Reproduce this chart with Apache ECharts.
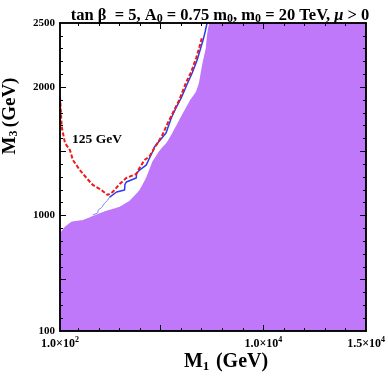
<!DOCTYPE html>
<html>
<head>
<meta charset="utf-8">
<script src="https://cdn.jsdelivr.net/npm/echarts@6/dist/echarts.min.js"></script>
<style>
  html, body { margin: 0; padding: 0; background: #fff; }
  #main { width: 388px; height: 382px; }
</style>
</head>
<body>
<div id="main"></div>
<script>
// excluded region boundary (area below is filled)
const edgeX = [100, 342, 666, 1213, 1696, 2359, 3003, 3486, 3970, 4309, 4599, 4940, 5276, 5567, 5905, 6437, 6713, 6873, 7018, 7197, 7260, 7405, 15000]
const edgeY = [864, 913, 952, 965, 996, 1037, 1069, 1115, 1199, 1300, 1420, 1505, 1565, 1643, 1744, 1900, 1962, 2040, 2173, 2305, 2406, 2500, 2500]

// 125 GeV higgs contour (red)
const higgsX = [100, 182, 342, 584, 729, 1068, 1392, 1696, 2117, 2422, 2664, 3003, 3327, 3811, 3970, 4212, 4454, 4696, 4938, 5083, 5325, 5567, 5905, 6244, 6486, 6728, 6873, 7018]
const higgsY = [1926, 1692, 1565, 1510, 1432, 1353, 1292, 1238, 1199, 1160, 1183, 1245, 1292, 1323, 1370, 1432, 1460, 1526, 1588, 1627, 1713, 1791, 1900, 2040, 2118, 2227, 2305, 2391]

// blue contour, faint start then solid
const blueThinX = [1696, 1938, 1960, 2117, 2277, 2300, 2422, 2519]
const blueThinY = [1004, 1020, 1043, 1060, 1097, 1110, 1120, 1144]
const blueX = [2519, 2857, 3245, 3260, 3327, 3811, 3830, 3970, 4294, 4599, 4696, 4938, 5262, 5518, 5746, 6002, 6292, 6534, 6776, 6921, 7066, 7163, 7260]
const blueY = [1144, 1183, 1199, 1240, 1261, 1292, 1330, 1353, 1393, 1495, 1534, 1580, 1643, 1760, 1838, 1916, 2025, 2110, 2212, 2290, 2367, 2430, 2500]

const xMinor = [1000, 2000, 3000, 4000, 6000, 7000, 8000, 9000, 11000, 12000, 13000, 14000]
const xMajor = [5000, 10000]
const xLabels = [100, 10000, 15000]
const yMinor = [200, 300, 400, 600, 700, 800, 900, 1100, 1200, 1300, 1400, 1600, 1700, 1800, 1900, 2100, 2200, 2300, 2400]
const yMajor = [500, 1000, 1500, 2000]
const yLabels = [100, 1000, 2000, 2500]

const serif = 'Liberation Serif'
const toPairs = (xs, ys) => xs.map((x, i) => [x, ys[i]])

const xFmt = v => {
  if (v === 100) return '{a|1.0×10}{s|2}'
  if (v === 10000) return '{a|1.0×10}{s|4}'
  return '{a|1.5×10}{s|4}'
}
const tickRich = {
  a: { fontFamily: serif, fontWeight: 'bold', fontSize: 12, color: '#000' },
  s: { fontFamily: serif, fontWeight: 'bold', fontSize: 8, color: '#000', padding: [0, 0, 7, 0] }
}

function xAx(pos, ticks, len, labels) {
  return {
    type: 'value', position: pos, min: 100, max: 15000, z: 10,
    axisLine: { show: true, onZero: false, lineStyle: { color: '#000', width: 1.5 } },
    axisTick: { show: true, inside: true, length: len, customValues: ticks, lineStyle: { color: '#000', width: 1 } },
    axisLabel: labels ? { show: true, customValues: labels, formatter: xFmt, rich: tickRich, margin: 5 } : { show: false },
    splitLine: { show: false }
  }
}
function yAx(pos, ticks, len, labels) {
  return {
    type: 'value', position: pos, min: 100, max: 2500, z: 10,
    axisLine: { show: true, onZero: false, lineStyle: { color: '#000', width: 1.5 } },
    axisTick: { show: true, inside: true, length: len, customValues: ticks, lineStyle: { color: '#000', width: 1 } },
    axisLabel: labels ? {
      show: true, customValues: labels, margin: 5, formatter: v => String(v),
      fontFamily: serif, fontWeight: 'bold', fontSize: 11, color: '#000'
    } : { show: false },
    splitLine: { show: false }
  }
}

const chart = echarts.init(document.getElementById('main'))
const option = {
  animation: false,
  backgroundColor: '#fff',
  grid: { left: 60, right: 20, top: 23, bottom: 51 },
  title: {
    text: 'tan β  = 5, A{b|0} = 0.75 m{b|0}, m{b|0} = 20 TeV, {i|μ} > 0',
    left: 215, top: 1, textAlign: 'center',
    textStyle: {
      fontFamily: serif, fontWeight: 'bold', fontSize: 16.5, color: '#000',
      rich: {
        b: { fontFamily: serif, fontWeight: 'bold', fontSize: 12, color: '#000', padding: [7, 0, 0, 0] },
        i: { fontFamily: serif, fontWeight: 'bold', fontStyle: 'italic', fontSize: 16.5, color: '#000' }
      }
    }
  },
  xAxis: [
    xAx('bottom', xMinor, 3, xLabels),
    xAx('bottom', xMajor, 6, null),
    xAx('top', xMinor, 3, null),
    xAx('top', xMajor, 6, null)
  ],
  yAxis: [
    yAx('left', yMinor, 3, yLabels),
    yAx('left', yMajor, 6, null),
    yAx('right', yMinor, 3, null),
    yAx('right', yMajor, 6, null)
  ],
  graphic: [
    {
      type: 'text', x: 10, y: 116, rotation: Math.PI / 2,
      style: {
        text: '{m|M}{b|3} {m|(GeV)}', align: 'center', verticalAlign: 'middle',
        rich: {
          m: { fontFamily: serif, fontWeight: 'bold', fontSize: 19, fill: '#000' },
          b: { fontFamily: serif, fontWeight: 'bold', fontSize: 12, fill: '#000', padding: [8, 0, 0, 0] }
        }
      }
    },
    {
      type: 'text', x: 226, y: 362,
      style: {
        text: '{m|M}{b|1}  {m|(GeV)}', align: 'center', verticalAlign: 'middle',
        rich: {
          m: { fontFamily: serif, fontWeight: 'bold', fontSize: 20, fill: '#000' },
          b: { fontFamily: serif, fontWeight: 'bold', fontSize: 13, fill: '#000', padding: [9, 0, 0, 0] }
        }
      }
    },
    {
      type: 'text', x: 97, y: 140,
      style: {
        text: '125 GeV', align: 'center', verticalAlign: 'middle',
        fontFamily: serif, fontWeight: 'bold', fontSize: 13.5, fill: '#000'
      }
    }
  ],
  series: [
    {
      type: 'line', data: toPairs(edgeX, edgeY), showSymbol: false, smooth: 0.12,
      lineStyle: { width: 0, color: '#c078fa' },
      areaStyle: { color: '#c078fa', opacity: 1, origin: 'start' },
      z: 1
    },
    {
      type: 'line', data: toPairs(blueThinX, blueThinY), showSymbol: false,
      lineStyle: { width: 1, color: '#7f8cff' }, z: 3
    },
    {
      type: 'line', data: toPairs(blueX, blueY), showSymbol: false,
      lineStyle: { width: 1.5, color: '#2a3cf0' }, z: 3
    },
    {
      type: 'line', data: toPairs(higgsX, higgsY), showSymbol: false,
      lineStyle: { width: 2, color: '#f01818', type: [4, 2] }, z: 4
    }
  ]
}
chart.setOption(option)
</script>
</body>
</html>
